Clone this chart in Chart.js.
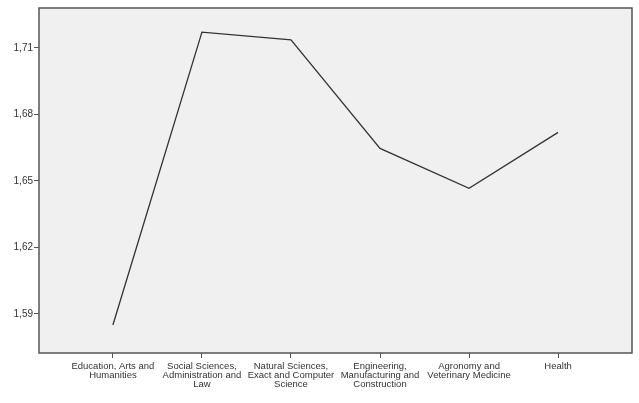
<!DOCTYPE html>
<html>
<head>
<meta charset="utf-8">
<script src="https://cdn.jsdelivr.net/npm/chart.js@4"></script>
<style>
  html, body { margin: 0; padding: 0; background: #fff; }
  #wrap { width: 639px; height: 403px; }
</style>
</head>
<body>
<div id="wrap"><canvas id="chart"></canvas></div>
<script>
var categories = [
  ['Education, Arts and', 'Humanities'],
  ['Social Sciences,', 'Administration and', 'Law'],
  ['Natural Sciences,', 'Exact and Computer', 'Science'],
  ['Engineering,', 'Manufacturing and', 'Construction'],
  ['Agronomy and', 'Veterinary Medicine'],
  ['Health']
];
var means = [1.585, 1.7171, 1.7136, 1.6647, 1.6467, 1.6719];
var yTicks = [1.59, 1.62, 1.65, 1.68, 1.71];

var points = means.map(function (v, i) { return { x: i, y: v }; });

var plotFrame = {
  id: 'plotFrame',
  beforeDraw(chart) {
    var a = chart.chartArea, ctx = chart.ctx;
    ctx.save();
    ctx.fillStyle = '#f0f0f0';
    ctx.fillRect(a.left, a.top, a.right - a.left, a.bottom - a.top);
    ctx.restore();
  },
  afterDraw(chart) {
    var a = chart.chartArea, ctx = chart.ctx;
    ctx.save();
    ctx.strokeStyle = '#555';
    ctx.lineWidth = 1.5;
    ctx.strokeRect(a.left, a.top, a.right - a.left, a.bottom - a.top);
    ctx.restore();
  }
};

new Chart(document.getElementById('chart'), {
  type: 'line',
  data: {
    datasets: [{
      data: points,
      borderColor: '#333',
      borderWidth: 1.3,
      pointRadius: 0,
      tension: 0,
      fill: false
    }]
  },
  options: {
    responsive: true,
    maintainAspectRatio: false,
    animation: false,
    layout: { padding: { top: 8, right: 7, left: 0, bottom: 0 } },
    plugins: { legend: { display: false }, tooltip: { enabled: false } },
    scales: {
      x: {
        type: 'linear',
        min: -0.83,
        max: 5.83,
        afterBuildTicks(scale) {
          scale.ticks = categories.map(function (c, i) { return { value: i }; });
        },
        afterFit(scale) { scale.height = 50; },
        grid: { drawOnChartArea: false, tickLength: 5, color: '#555', lineWidth: 1 },
        border: { display: false },
        ticks: {
          autoSkip: false,
          maxRotation: 0,
          padding: 4,
          color: '#333',
          font: { family: 'Liberation Sans', size: 9.5, lineHeight: 0.95 },
          callback(v) { return categories[v]; }
        }
      },
      y: {
        min: 1.5724,
        max: 1.728,
        afterBuildTicks(scale) {
          scale.ticks = yTicks.map(function (v) { return { value: v }; });
        },
        afterFit(scale) { scale.width = 39; },
        grid: { drawOnChartArea: false, tickLength: 5, color: '#555', lineWidth: 1 },
        border: { display: false },
        ticks: {
          padding: 1,
          color: '#333',
          font: { family: 'Liberation Sans', size: 10 },
          callback(v) { return v.toFixed(2).replace('.', ','); }
        }
      }
    }
  },
  plugins: [plotFrame]
});
</script>
</body>
</html>
